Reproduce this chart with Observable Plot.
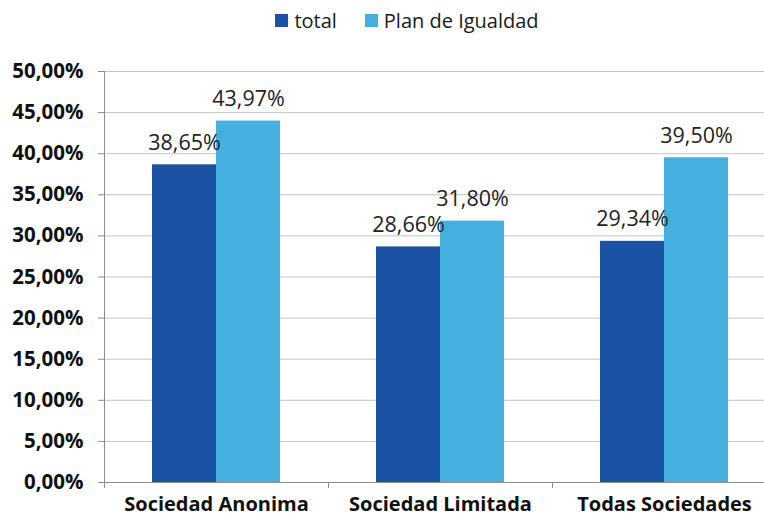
<!DOCTYPE html>
<html><head><meta charset="utf-8">
<script src="https://cdn.jsdelivr.net/npm/d3@7"></script>
<script src="https://cdn.jsdelivr.net/npm/@observablehq/plot@0.6"></script>
<style>
body{margin:0;background:#fff;font-family:"Open Sans",sans-serif;}
#legend{height:40px;display:flex;align-items:center;justify-content:center;padding-left:50px;box-sizing:border-box;font-size:20px;color:#1a1a1a;}
.item{display:flex;align-items:center;margin:0 14px;}
.sw{width:13px;height:13px;display:inline-block;margin-right:6px;}
</style></head>
<body>
<div id="legend"></div>
<div id="chart"></div>
<script>
const categories = ["Sociedad Anonima", "Sociedad Limitada", "Todas Sociedades"];
const series = ["total", "Plan de Igualdad"];
const totalValues = [0.3865, 0.2866, 0.2934];
const planValues = [0.4397, 0.3180, 0.3950];
const yTicks = [0, 0.05, 0.10, 0.15, 0.20, 0.25, 0.30, 0.35, 0.40, 0.45, 0.50];
const colors = ["#1B52A3", "#45AFDF"];

const data = categories.flatMap((c, i) => [
  {category: c, series: series[0], value: totalValues[i]},
  {category: c, series: series[1], value: planValues[i]}
]);

const W = 764, H = 478, mL = 104, mR = -12;
const step = (W - mL - mR) / categories.length;
const fmt = v => (v * 100).toFixed(2).replace(".", ",") + "%";

const legend = document.getElementById("legend");
series.forEach((s, i) => {
  const it = document.createElement("span");
  it.className = "item";
  it.innerHTML = `<span class="sw" style="background:${colors[i]}"></span><span>${s}</span>`;
  legend.appendChild(it);
});

const chart = Plot.plot({
  width: W, height: H,
  marginLeft: mL, marginRight: mR, marginTop: 31, marginBottom: 36,
  style: {fontFamily: "'Open Sans', sans-serif", background: "white", color: "#1a1a1a", overflow: "visible"},
  fx: {domain: categories, padding: 0, label: null},
  x: {domain: series, paddingInner: 0, paddingOuter: 0.75, axis: null},
  y: {domain: [0, 0.5], label: null},
  color: {domain: series, range: colors},
  marks: [
    Plot.gridY(yTicks, {stroke: "#c4c4c4", strokeOpacity: 1, strokeWidth: 1}),
    Plot.frame({anchor: "left", facetAnchor: "left", stroke: "#8c8c8c"}),
    Plot.barY(data, {fx: "category", x: "series", y: "value", fill: "series"}),
    Plot.ruleY([0], {stroke: "#8c8c8c"}),
    Plot.axisY(yTicks, {tickFormat: fmt, tickSize: 6, tickPadding: 15, fontSize: 20.5, fontWeight: "bold", stroke: "#8c8c8c", fill: "#111", label: null}),
    Plot.axisFx({anchor: "bottom", text: null, tickSize: 6, dx: -step / 2, stroke: "#8c8c8c", label: null}),
    Plot.axisFx({anchor: "bottom", tickSize: 0, tickPadding: 14, fontSize: 20, fontWeight: "bold", fill: "#111", label: null}),
    Plot.text(data, {fx: "category", x: "series", y: "value", text: d => fmt(d.value), dy: -22, fontSize: 21.5, fill: "#222"})
  ]
});
document.getElementById("chart").appendChild(chart);
</script>
</body></html>
